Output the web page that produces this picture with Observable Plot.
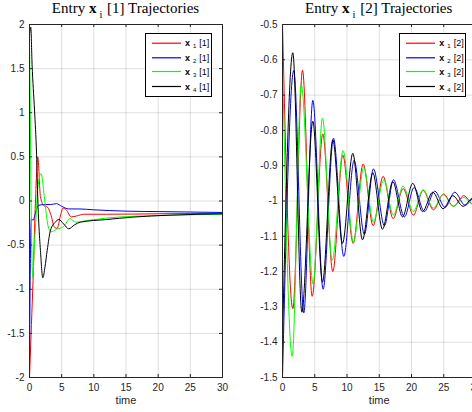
<!DOCTYPE html>
<html><head><meta charset="utf-8">
<script src="https://cdn.jsdelivr.net/npm/d3@7"></script>
<script src="https://cdn.jsdelivr.net/npm/@observablehq/plot@0.6"></script>
<style>
html,body{margin:0;padding:0;overflow:hidden;background:#fff;}
#wrap{position:relative;width:472px;height:412px;overflow:hidden;}
.panel{position:absolute;top:0;}
.title{position:absolute;top:0.5px;font-family:"Liberation Serif","DejaVu Serif",serif;font-size:15px;line-height:15px;color:#000;white-space:nowrap;transform:translateX(-50%);font-weight:normal;}
.title b{font-weight:bold;}
.title .sub{font-size:10.5px;position:relative;top:5px;margin-left:3px;margin-right:1px;}
.legend{position:absolute;top:33px;width:65px;height:62px;border:1px solid #000;background:#fff;font-family:"Liberation Sans",Arial,sans-serif;font-size:9px;color:#000;}
.legend svg{position:absolute;left:0;top:0;}
.row{position:absolute;left:39px;height:12px;line-height:12px;white-space:nowrap;}
.row .s{font-size:6px;position:relative;top:2px;margin:0 3px 0 3px;}
</style>
</head><body>
<div id="wrap"></div>
<script>
// ---------- data ----------
const seriesNames = ["x1", "x2", "x3", "x4"];
const seriesColors = ["#ff0000", "#0000ff", "#00ff00", "#000000"];
const xTicks = [0, 5, 10, 15, 20, 25, 30];
const xTickLabels = ["0", "5", "10", "15", "20", "25", "30"];
const leftYTicks = [2, 1.5, 1, 0.5, 0, -0.5, -1, -1.5, -2];
const leftYTickLabels = ["2", "1.5", "1", "0.5", "0", "-0.5", "-1", "-1.5", "-2"];
const rightYTicks = [-0.5, -0.6, -0.7, -0.8, -0.9, -1, -1.1, -1.2, -1.3, -1.4, -1.5];
const rightYTickLabels = ["-0.5", "-0.6", "-0.7", "-0.8", "-0.9", "-1", "-1.1", "-1.2", "-1.3", "-1.4", "-1.5"];

// Entry [1]
const L1_t = [0,0.3,0.55,0.93,1.29,1.7,2.2,2.8,3.3,3.9,4.3,4.8,5.2,5.7,6.5,7.3,8.5,12,20,30];
const L1_v = [-2,-1.4,-0.9,0,0.5,0.05,-0.05,-0.07,-0.15,-0.3,-0.31,-0.17,-0.08,-0.1,-0.18,-0.17,-0.15,-0.15,-0.145,-0.14];
const L2_t = [0,0.15,0.3,0.55,0.9,1.4,2.2,3.3,4.2,5.0,6.1,7.7,10,15,20,30];
const L2_v = [-1.8,-0.6,-0.2,-0.22,-0.14,-0.05,-0.04,-0.04,-0.03,-0.06,-0.09,-0.09,-0.1,-0.115,-0.12,-0.13];
const L3_t = [0,0.1,0.2,0.35,0.52,0.7,1.0,1.3,1.8,2.3,2.8,3.3,4.2,5.3,6.3,7.2,9,14.2,20,30];
const L3_v = [1.8,1.2,0.3,-0.5,-0.87,-0.6,-0.2,0.15,0.31,0.05,-0.25,-0.35,-0.32,-0.29,-0.2,-0.24,-0.22,-0.18,-0.165,-0.15];
const L4_t = [0,0.2,0.4,0.78,1.1,1.3,1.45,1.7,2.07,2.4,2.75,3.27,4.0,4.55,5.3,6.1,7.0,7.9,12,16,22,30];
const L4_v = [1.88,1.97,1.55,1.03,0.53,0.0,-0.26,-0.56,-0.87,-0.75,-0.56,-0.33,-0.24,-0.21,-0.26,-0.315,-0.27,-0.24,-0.21,-0.183,-0.16,-0.145];

// Entry [2]
const R1_t = [0,1.6,3.1,4.6,6.25,7.8,9.35,10.95,12.5,14.05,15.6,17.15,18.7,20.3,21.8,23.4,24.95,26.5,28.1,29.6,30];
const R1_v = [-0.5,-1.305,-0.63,-1.27,-0.81,-1.2,-0.87,-1.12,-0.895,-1.07,-0.93,-1.05,-0.965,-1.04,-0.97,-1.025,-0.98,-1.015,-0.985,-1.01,-1.005];
const R2_t = [0,1.75,3.3,4.7,6.3,7.9,9.5,11.1,12.7,14.1,15.8,17.2,18.9,20.4,22.0,23.6,25.2,26.7,28.3,29.8,30];
const R2_v = [-1.5,-0.63,-1.317,-0.715,-1.25,-0.822,-1.157,-0.885,-1.095,-0.909,-1.07,-0.94,-1.045,-0.962,-1.03,-0.972,-1.018,-0.975,-1.012,-0.99,-0.992];
const R3_t = [0,1.5,2.9,4.75,6.2,7.7,9.4,11.0,12.6,14.1,15.7,17.2,18.7,20.3,21.8,23.4,24.9,26.5,28.1,29.6,30];
const R3_v = [-0.6,-1.44,-0.67,-1.235,-0.765,-1.168,-0.857,-1.117,-0.905,-1.06,-0.94,-1.04,-0.958,-1.03,-0.968,-1.02,-0.982,-1.015,-0.99,-1.01,-1.0];
const R4_t = [0,1.6,3.0,4.7,6.2,7.8,9.3,10.9,12.4,14.0,15.5,17.1,18.6,20.2,21.7,23.3,24.9,26.4,28.0,29.5,30];
const R4_v = [-1.39,-0.58,-1.315,-0.774,-1.23,-0.827,-1.12,-0.865,-1.11,-0.92,-1.08,-0.945,-1.045,-0.95,-1.03,-0.975,-1.022,-0.985,-1.015,-0.992,-0.995];

// ---------- build ----------
function table2(tArrs, vArrs) {
  const rows = [];
  tArrs.forEach((tt, k) => tt.forEach((t, j) => rows.push({s: seriesNames[k], t, v: vArrs[k][j]})));
  return rows;
}
const leftData = table2([L1_t, L2_t, L3_t, L4_t], [L1_v, L2_v, L3_v, L4_v]);
const rightData = table2([R1_t, R2_t, R3_t, R4_t], [R1_v, R2_v, R3_v, R4_v]);

const H = 412, MT = 24, MB = 35;
function panel(data, yDomain, yTicks, yLabels, ml, mr, w) {
  const pw = w - ml - mr, ph = H - MT - MB;
  const fmtX = d => xTickLabels[xTicks.indexOf(d)];
  const fmtY = d => yLabels[yTicks.indexOf(d)];
  const marks = [
    Plot.gridX(xTicks, {stroke: "#262626", strokeOpacity: 0.15}),
    Plot.gridY(yTicks, {stroke: "#262626", strokeOpacity: 0.15}),
  ];
  seriesNames.forEach((s, k) => {
    marks.push(Plot.line(data.filter(d => d.s === s), {x: "t", y: "v", stroke: seriesColors[k], strokeWidth: 1, curve: "monotone-x"}));
  });
  marks.push(
    Plot.frame({stroke: "#262626", strokeWidth: 1}),
    Plot.ruleX(xTicks, {x: d => d, stroke: "#262626", insetTop: ph - 3}),
    Plot.ruleX(xTicks, {x: d => d, stroke: "#262626", insetBottom: ph - 3}),
    Plot.ruleY(yTicks, {y: d => d, stroke: "#262626", insetRight: pw - 3}),
    Plot.ruleY(yTicks, {y: d => d, stroke: "#262626", insetLeft: pw - 3}),
    Plot.axisX(xTicks, {tickSize: 0, tickPadding: 6, tickFormat: fmtX, label: null, fill: "#262626"}),
    Plot.axisY(yTicks, {tickSize: 0, tickPadding: 5, tickFormat: fmtY, label: null, fill: "#262626"}),
    Plot.text(["time"], {frameAnchor: "bottom", lineAnchor: "middle", dy: 22.8, fontSize: 11, fill: "#262626"})
  );
  return Plot.plot({
    width: w, height: H, marginTop: MT, marginBottom: MB, marginLeft: ml, marginRight: mr,
    x: {domain: [0, 30]},
    y: {domain: yDomain},
    style: {fontFamily: "'Liberation Sans', Arial, sans-serif", fontSize: "10px", background: "transparent", overflow: "visible"},
    marks
  });
}

const wrap = document.getElementById("wrap");
function place(node, left) {
  node.classList.add("panel");
  node.style.left = left + "px";
  wrap.appendChild(node);
}
place(panel(leftData, [-2, 2], leftYTicks, leftYTickLabels, 29, 18, 240), 0);
place(panel(rightData, [-1.5, -0.5], rightYTicks, rightYTickLabels, 42, 4.5, 240), 240);

function addTitle(cx, idx) {
  const d = document.createElement("div");
  d.className = "title";
  d.style.left = cx + "px";
  d.innerHTML = `Entry <b>x</b><span class="sub">i</span> [${idx}] Trajectories`;
  wrap.appendChild(d);
}
addTitle(125.5, 1);
addTitle(378.7, 2);

function addLegend(left, idx) {
  const L = d3.select(wrap).append("div").attr("class", "legend").style("left", left + "px");
  const centers = [9.2, 23.8, 37.5, 52.5];
  const svg = L.append("svg").attr("width", 65).attr("height", 62);
  svg.selectAll("line").data(seriesNames).join("line")
    .attr("x1", 6).attr("x2", 35)
    .attr("y1", (d, k) => centers[k]).attr("y2", (d, k) => centers[k])
    .attr("stroke", (d, k) => seriesColors[k]).attr("stroke-width", 1.2);
  seriesNames.forEach((s, k) => {
    L.append("div").attr("class", "row").style("top", (centers[k] - 6) + "px")
      .html(`<b>x</b><span class="s">${k + 1}</span>[${idx}]`);
  });
}
addLegend(145, 1);
addLegend(399.3, 2);
</script>
</body></html>
